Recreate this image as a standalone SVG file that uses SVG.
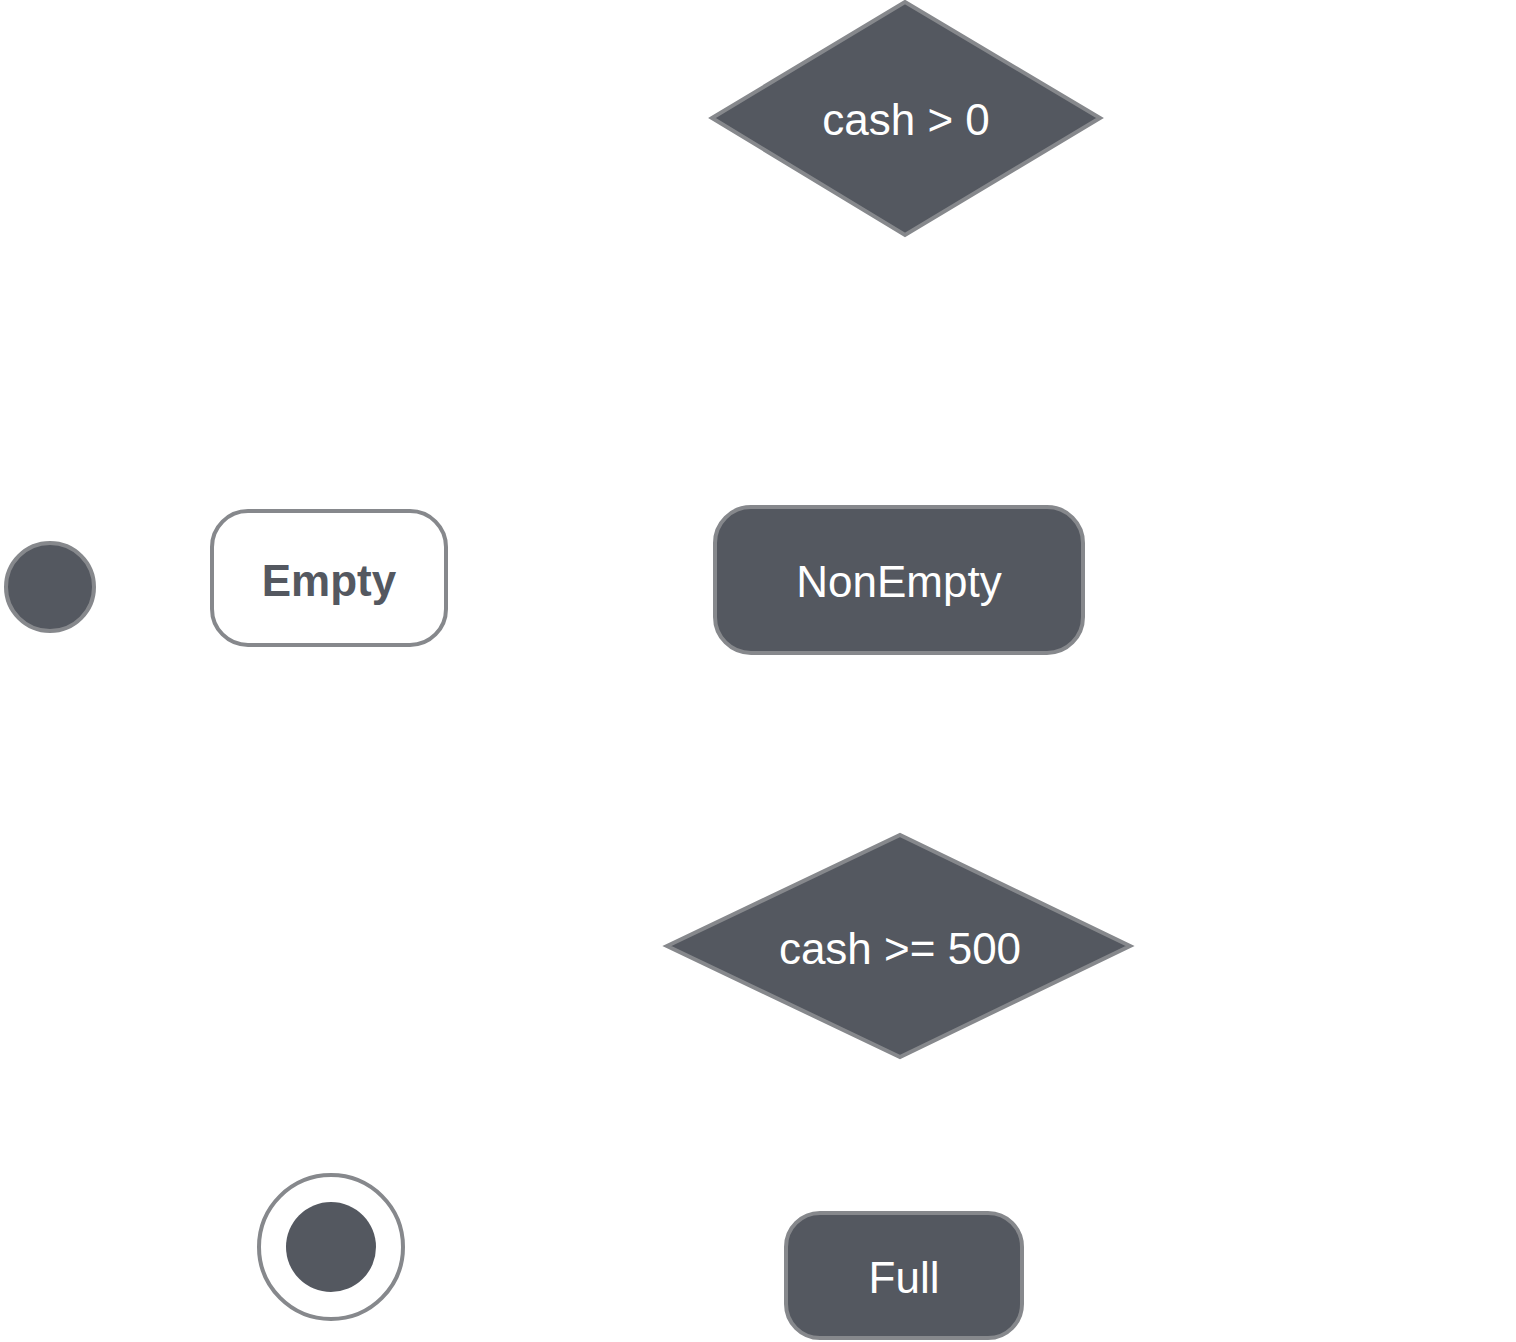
<svg xmlns="http://www.w3.org/2000/svg" width="1516" height="1342" viewBox="0 0 1516 1342">
<style>
.node{fill:#545860;stroke:#86888c;stroke-width:4}
.empty{fill:#ffffff;stroke:#86888c;stroke-width:4}
.lbl{font-family:"Liberation Sans",Arial,sans-serif;font-size:44px;fill:#ffffff;text-anchor:middle}
.dark{fill:#545860;font-weight:bold}
.conn{fill:none;stroke:#ffffff;stroke-width:2}
.elbl{font-family:"Liberation Sans",Arial,sans-serif;font-size:30px;fill:#ffffff}
</style>
<defs>
<marker id="arr" viewBox="0 0 10 10" refX="10" refY="5" markerWidth="10" markerHeight="10" orient="auto" markerUnits="userSpaceOnUse">
<path d="M0,0 L10,5 L0,10" fill="none" stroke="#ffffff" stroke-width="1.5"/>
</marker>
</defs>
<rect width="1516" height="1342" fill="#ffffff"/>
<g id="connectors">
<path class="conn" d="M95,587 L210,587" marker-end="url(#arr)"/>
<path class="conn" d="M446,580 L713,580" marker-end="url(#arr)"/>
<path class="conn" d="M900,507 L905,237" marker-end="url(#arr)"/>
<path class="conn" d="M1100,118 L1515,118 L1515,690" />
<path class="conn" d="M712,118 L329,118 L329,509" marker-end="url(#arr)"/>
<path class="conn" d="M899,653 L900,833" marker-end="url(#arr)"/>
<path class="conn" d="M900,1057 L904,1211" marker-end="url(#arr)"/>
<path class="conn" d="M1130,946 L1510,946 L1510,905" />
<path class="conn" d="M786,1275 L405,1247" marker-end="url(#arr)"/>
<text class="elbl" x="515" y="557">Deposit</text>
<text class="elbl" x="693" y="781">Deposit</text>
<text class="elbl" x="720" y="363">Withdraw</text>
<text class="elbl" x="1458" y="68">Y</text>
</g>
<g id="initial">
<circle class="node" cx="50" cy="587" r="44"/>
</g>
<g id="empty">
<rect class="empty" x="212" y="511" width="234" height="134" rx="36"/>
<text class="lbl dark" x="329" y="596">Empty</text>
</g>
<g id="nonempty">
<rect class="node" x="715" y="507" width="368" height="146" rx="36"/>
<text class="lbl" x="899" y="597">NonEmpty</text>
</g>
<g id="decision-withdraw">
<polygon class="node" points="712,118 905,2 1100,118 905,235"/>
<text class="lbl" x="906" y="135">cash &gt; 0</text>
</g>
<g id="decision-deposit">
<polygon class="node" points="667,946 900,835 1130,946 900,1057"/>
<text class="lbl" x="900" y="964">cash &gt;= 500</text>
</g>
<g id="full">
<rect class="node" x="786" y="1213" width="236" height="125" rx="34"/>
<text class="lbl" x="904" y="1293">Full</text>
</g>
<g id="final">
<circle cx="331" cy="1247" r="72" fill="#ffffff" stroke="#86888c" stroke-width="4"/>
<circle cx="331" cy="1247" r="45" fill="#545860"/>
</g>
</svg>
